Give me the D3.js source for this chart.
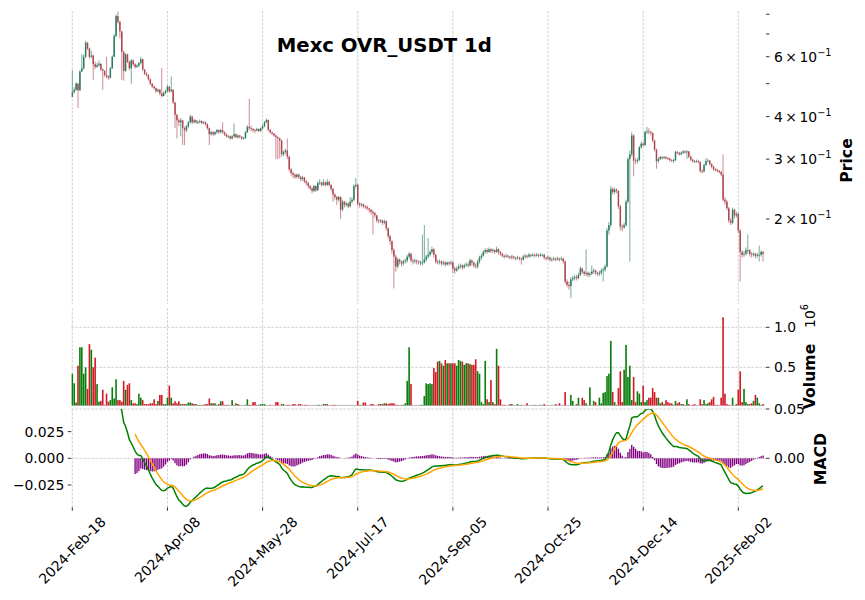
<!DOCTYPE html>
<html><head><meta charset="utf-8">
<script src="https://cdn.jsdelivr.net/npm/d3@7"></script>
<style>
body{margin:0;background:#fff}
svg{display:block}
text{font-family:"DejaVu Sans",sans-serif;fill:#000}
</style>
</head><body>
<svg id="chart" width="865" height="600"></svg>
<script>
// ---------------- DATA ----------------
const chartTitle = "Mexc OVR_USDT 1d";
const firstOpen = 0.458;
const closes = [
.472,.480,.500,.478,.543,.555,.600,.660,.635,.600,
.605,.570,.560,.566,.572,.550,.545,.530,.525,.520,
.555,.600,.690,.790,.760,.712,.620,.545,.610,.580,
.555,.585,.570,.560,.565,.575,.590,.550,.535,.530,
.515,.500,.490,.485,.475,.480,.468,.460,.470,.476,
.490,.475,.480,.440,.405,.390,.385,.390,.370,.365,
.375,.385,.400,.385,.390,.385,.386,.388,.383,.385,
.380,.370,.355,.360,.355,.360,.365,.360,.365,.360,
.355,.350,.350,.345,.350,.355,.348,.352,.349,.345,
.346,.360,.373,.370,.368,.365,.364,.368,.363,.370,
.375,.385,.391,.366,.360,.357,.352,.348,.345,.340,
.310,.315,.318,.305,.280,.273,.270,.266,.270,.266,
.262,.265,.258,.255,.250,.246,.242,.250,.243,.255,
.256,.252,.256,.252,.257,.252,.245,.236,.232,.228,
.232,.213,.225,.220,.222,.218,.225,.228,.250,.252,
.222,.220,.221,.218,.217,.215,.213,.210,.208,.205,
.198,.197,.198,.195,.197,.188,.178,.172,.162,.155,
.145,.152,.150,.148,.150,.151,.155,.158,.151,.150,
.151,.150,.149,.149,.149,.152,.155,.157,.160,.163,
.157,.150,.149,.150,.148,.149,.147,.149,.148,.149,
.143,.141,.143,.145,.146,.144,.146,.147,.146,.151,
.149,.146,.145,.150,.154,.156,.160,.162,.160,.163,
.161,.162,.160,.163,.160,.158,.156,.155,.156,.155,
.154,.155,.154,.153,.154,.153,.152,.155,.156,.155,
.157,.156,.157,.156,.157,.156,.157,.157,.154,.153,
.154,.152,.152,.153,.152,.153,.152,.153,.150,.131,
.128,.127,.133,.134,.135,.134,.137,.143,.140,.138,
.139,.137,.138,.140,.141,.139,.138,.139,.141,.142,
.145,.185,.192,.245,.240,.244,.242,.218,.190,.189,
.192,.225,.300,.310,.352,.297,.296,.298,.325,.333,
.330,.360,.362,.360,.358,.340,.320,.296,.300,.304,
.302,.304,.302,.301,.298,.297,.298,.315,.313,.310,
.313,.316,.314,.316,.305,.299,.296,.295,.296,.294,
.277,.276,.288,.296,.297,.290,.285,.280,.279,.277,
.275,.270,.228,.225,.215,.198,.195,.213,.205,.207,
.185,.160,.157,.158,.162,.162,.158,.157,.158,.156,
.157,.157,.160,.158];
const highs = [
.548,.488,.505,.502,.548,.610,.610,.668,.662,.638,
.625,.608,.580,.575,.585,.574,.556,.548,.600,.530,
.560,.606,.700,.800,.815,.765,.715,.625,.615,.612,
.585,.590,.590,.575,.570,.580,.600,.592,.552,.540,
.532,.518,.502,.494,.488,.484,.482,.555,.474,.480,
.495,.492,.525,.482,.442,.408,.395,.396,.392,.374,
.378,.388,.405,.402,.394,.392,.390,.392,.390,.388,
.387,.382,.372,.364,.362,.363,.368,.367,.368,.385,
.362,.357,.353,.352,.353,.382,.357,.354,.354,.350,
.349,.363,.378,.451,.376,.370,.368,.371,.369,.372,
.378,.388,.395,.392,.368,.362,.358,.354,.350,.347,
.342,.318,.322,.345,.307,.283,.276,.272,.272,.272,
.268,.268,.266,.260,.257,.252,.248,.252,.251,.258,
.262,.258,.262,.258,.262,.259,.253,.247,.238,.234,
.234,.233,.228,.226,.225,.224,.232,.231,.253,.264,
.254,.224,.223,.222,.220,.219,.216,.214,.212,.210,
.206,.200,.200,.199,.199,.198,.189,.180,.173,.164,
.157,.154,.153,.151,.152,.153,.157,.160,.159,.153,
.153,.152,.151,.151,.180,.192,.157,.176,.162,.166,
.164,.158,.152,.152,.151,.151,.150,.150,.150,.151,
.150,.145,.145,.147,.148,.147,.148,.149,.149,.153,
.152,.150,.148,.152,.156,.158,.162,.164,.164,.165,
.164,.164,.163,.166,.164,.161,.159,.157,.158,.157,
.156,.157,.156,.155,.156,.155,.154,.157,.158,.157,
.159,.158,.159,.158,.159,.158,.159,.158,.158,.155,
.156,.155,.154,.155,.154,.155,.154,.155,.154,.151,
.133,.131,.135,.136,.137,.137,.139,.145,.144,.141,
.163,.140,.140,.146,.143,.142,.140,.141,.143,.144,
.147,.188,.196,.250,.248,.247,.246,.243,.220,.193,
.195,.228,.304,.318,.360,.355,.302,.303,.328,.338,
.336,.364,.373,.370,.364,.360,.342,.322,.304,.307,
.306,.307,.306,.304,.303,.300,.301,.318,.317,.315,
.316,.319,.318,.319,.317,.307,.301,.298,.299,.298,
.296,.280,.291,.302,.301,.298,.292,.287,.283,.281,
.279,.277,.310,.232,.228,.217,.201,.216,.214,.210,
.209,.187,.162,.161,.165,.180,.163,.160,.160,.159,
.159,.167,.162,.161];
const lows = [
.455,.468,.476,.424,.476,.540,.550,.595,.628,.592,
.595,.512,.552,.556,.562,.545,.480,.524,.518,.512,
.518,.552,.598,.685,.750,.680,.512,.510,.540,.575,
.548,.500,.565,.554,.556,.560,.570,.545,.530,.525,
.510,.495,.486,.480,.470,.472,.462,.455,.458,.466,
.472,.470,.472,.436,.370,.345,.375,.350,.330,.330,
.360,.370,.382,.380,.382,.381,.380,.382,.380,.380,
.376,.366,.330,.352,.350,.352,.356,.356,.357,.356,
.351,.347,.346,.342,.343,.347,.345,.345,.345,.342,
.342,.344,.358,.365,.362,.360,.358,.362,.360,.361,
.366,.372,.383,.362,.356,.353,.349,.300,.300,.302,
.305,.306,.310,.300,.276,.268,.264,.262,.263,.262,
.258,.259,.255,.251,.246,.243,.238,.240,.240,.242,
.252,.249,.250,.249,.250,.249,.241,.225,.228,.220,
.225,.200,.211,.216,.217,.215,.216,.222,.226,.246,
.218,.216,.217,.215,.214,.212,.209,.206,.180,.201,
.195,.194,.195,.192,.193,.185,.175,.168,.158,.125,
.140,.143,.147,.145,.146,.148,.149,.153,.149,.147,
.148,.147,.147,.146,.146,.148,.150,.153,.155,.158,
.154,.148,.147,.147,.146,.146,.145,.146,.146,.146,
.139,.138,.140,.142,.143,.142,.143,.145,.144,.145,
.146,.144,.143,.143,.148,.152,.155,.158,.158,.159,
.159,.159,.158,.159,.157,.156,.154,.153,.154,.153,
.152,.152,.152,.151,.152,.151,.147,.151,.153,.153,
.154,.154,.155,.154,.155,.154,.155,.155,.152,.151,
.152,.150,.150,.151,.150,.151,.150,.151,.148,.129,
.126,.124,.117,.131,.132,.132,.133,.136,.138,.136,
.136,.135,.135,.137,.138,.137,.136,.136,.137,.131,
.140,.144,.180,.189,.236,.237,.238,.214,.185,.184,
.187,.190,.222,.150,.305,.267,.290,.292,.296,.322,
.326,.328,.355,.355,.352,.336,.316,.281,.292,.298,
.299,.300,.299,.298,.295,.294,.292,.296,.310,.307,
.308,.311,.311,.300,.302,.296,.293,.292,.293,.291,
.273,.273,.274,.286,.293,.287,.282,.277,.276,.274,
.272,.267,.225,.220,.212,.195,.192,.193,.201,.202,
.182,.131,.154,.155,.156,.158,.155,.154,.155,.153,
.154,.150,.155,.150];
// volume in millions of units (axis offset 10^6)
const volumesM = [
.42,.30,.06,.52,.75,.75,.42,.50,.23,.79,
.72,.50,.62,.29,.07,.08,.22,.03,.17,.07,
.09,.25,.11,.35,.09,.09,.07,.33,.22,.28,
.30,.09,.05,.05,.04,.17,.12,.09,.04,.04,
.04,.05,.05,.10,.04,.08,.155,.155,.04,.04,
.12,.27,.12,.05,.075,.05,.075,.04,.04,.04,
.04,.06,.06,.05,.04,.04,.03,.03,.03,.03,
.04,.04,.11,.05,.05,.05,.03,.04,.075,.075,
.03,.03,.03,.025,.09,.03,.05,.04,.03,.025,
.025,.03,.10,.03,.03,.065,.065,.03,.03,.04,
.04,.04,.025,.025,.03,.025,.025,.065,.065,.025,
.04,.04,.025,.03,.03,.025,.04,.04,.025,.04,
.04,.025,.03,.03,.025,.025,.025,.025,.025,.03,
.03,.025,.04,.04,.04,.025,.025,.03,.03,.025,
.025,.025,.025,.025,.025,.025,.025,.025,.025,.025,
.08,.03,.03,.06,.06,.025,.025,.04,.04,.025,
.025,.04,.04,.04,.05,.05,.04,.05,.05,.05,
.03,.03,.025,.03,.03,.05,.33,.75,.29,.025,
.025,.025,.025,.03,.03,.14,.30,.29,.30,.29,
.49,.44,.57,.58,.55,.52,.59,.55,.55,.55,
.55,.55,.52,.59,.58,.57,.53,.55,.55,.54,
.53,.53,.60,.45,.42,.065,.04,.58,.10,.065,
.34,.065,.04,.73,.52,.10,.03,.03,.025,.025,
.04,.04,.025,.025,.04,.025,.03,.025,.025,.05,
.025,.025,.025,.03,.025,.025,.03,.025,.04,.025,
.025,.025,.025,.025,.04,.025,.05,.025,.025,.19,
.025,.025,.155,.08,.025,.04,.12,.025,.12,.09,
.05,.025,.25,.025,.08,.065,.025,.12,.05,.18,
.19,.39,.42,.83,.19,.065,.03,.24,.45,.065,
.47,.78,.38,.52,.09,.38,.065,.20,.17,.065,
.27,.065,.09,.12,.12,.24,.19,.12,.12,.05,
.065,.04,.09,.065,.05,.05,.03,.08,.05,.065,
.04,.04,.03,.10,.04,.025,.03,.04,.025,.025,
.10,.04,.09,.04,.05,.065,.10,.13,.03,.03,
.025,.12,1.125,.17,.04,.03,.025,.12,.025,.04,
.22,.45,.065,.23,.065,.04,.04,.05,.08,.155,
.12,.05,.03,.04];
const xTickIndex = [0,50,100,150,200,250,300,350];
const xTickLabels = ["2024-Feb-18","2024-Apr-08","2024-May-28","2024-Jul-17","2024-Sep-05","2024-Oct-25","2024-Dec-14","2025-Feb-02"];
const priceTickValues = [0.2,0.3,0.4,0.6];
const priceTickMantissa = ["2","3","4","6"];
const priceMinorTicks = [0.5,0.7,0.8];
const volumeTicks = [0.5,1.0];
const volumeTickLabels = ["0.5","1.0"];
const macdLeftTicks = [0.025,0,-0.025];
const macdLeftLabels = ["0.025","0.000","\u22120.025"];
const macdRightTicks = [0.05,0];
const macdRightLabels = ["0.05","0.00"];

// ---------------- COLORS ----------------
const upC = "#2a7a5e", downC = "#b0454f";
const volUp = "#0b7d0b", volDown = "#d11a24";
const gridC = "#c4c4c4";

// ---------------- BUILD ----------------
const data = closes.map((c,i)=>{
  const o = i===0 ? firstOpen : closes[i-1];
  return {i, o, c, h: highs[i], l: lows[i], v: volumesM[i], up: c >= o};
});

// MACD(12,26,9) from the closes: ewm(span, adjust=False, min_periods=span)
function ewm(vals, span){
  const a = 2/(span+1); let e=null, cnt=0;
  return vals.map(v=>{
    if (v==null) return null;
    e = (e==null) ? v : (1-a)*e + a*v; cnt++;
    return cnt>=span ? e : null;
  });
}
const ema12 = ewm(closes,12), ema26 = ewm(closes,26);
const macd = closes.map((_,i)=> (ema12[i]!=null && ema26[i]!=null) ? ema12[i]-ema26[i] : null);
const signal = ewm(macd,9);
const hist = macd.map((m,i)=> (m!=null && signal[i]!=null) ? m - signal[i] : null);

const svg = d3.select("#chart");
const L = 71.3, R = 766;
const P = {top:11, bottom:304}, V = {top:308.3, bottom:405.7}, M = {top:409, bottom:507.3};

const x = d3.scaleLinear().domain([0,350]).range([72.3,738.3]);
const step = x(1)-x(0);
const yP = d3.scaleLog().domain([0.1125,0.8177]).range([P.bottom,P.top]);
const yV = d3.scaleLinear().domain([0.02,1.2375]).range([V.bottom,V.top]);
const yM = d3.scaleLinear().domain([-0.0459,0.0462]).range([M.bottom,M.top]);   // left axis: MACD & signal lines
const yR = d3.scaleLinear().domain([-0.05,0.05]).range([507.6,409]);           // right axis: histogram

const defs = svg.append("defs");
[["cP",P],["cV",V],["cM",M]].forEach(([id,p])=>{
  defs.append("clipPath").attr("id",id).append("rect")
    .attr("x",L).attr("y",p.top).attr("width",R-L).attr("height",p.bottom-p.top);
});

// grid
const grid = svg.append("g").attr("stroke",gridC).attr("stroke-width",0.8).attr("stroke-dasharray","2.6,1.4").attr("fill","none");
[P,V,M].forEach(p=>{
  xTickIndex.forEach(t=>{
    grid.append("line").attr("x1",x(t)).attr("x2",x(t)).attr("y1",p.top).attr("y2",p.bottom);
  });
});
volumeTicks.forEach(t=>grid.append("line").attr("x1",L).attr("x2",R).attr("y1",yV(t)).attr("y2",yV(t)));
macdRightTicks.forEach(t=>grid.append("line").attr("x1",L).attr("x2",R).attr("y1",yR(t)).attr("y2",yR(t)));

// candles
const gP = svg.append("g").attr("clip-path","url(#cP)");
gP.selectAll("line.wick").data(data).join("line").attr("class","wick")
  .attr("x1",d=>x(d.i)).attr("x2",d=>x(d.i))
  .attr("y1",d=>yP(d.h)).attr("y2",d=>yP(d.l))
  .attr("stroke",d=>d.up?upC:downC).attr("stroke-width",0.9).attr("stroke-opacity",0.7);
const bw = step*0.78;
gP.selectAll("rect.body").data(data).join("rect").attr("class","body")
  .attr("x",d=>x(d.i)-bw/2).attr("width",bw)
  .attr("y",d=>yP(Math.max(d.o,d.c)))
  .attr("height",d=>Math.max(0.8, yP(Math.min(d.o,d.c))-yP(Math.max(d.o,d.c))))
  .attr("fill",d=>d.up?upC:downC);

// volume
const gV = svg.append("g").attr("clip-path","url(#cV)");
gV.append("line").attr("x1",L).attr("x2",R).attr("y1",V.bottom-0.3).attr("y2",V.bottom-0.3)
  .attr("stroke","#dcdcf4").attr("stroke-width",1.2);
const vw = step*0.85;
gV.selectAll("rect").data(data).join("rect")
  .attr("x",d=>x(d.i)-vw/2).attr("width",vw)
  .attr("y",d=>yV(d.v)).attr("height",d=>Math.max(0,yV.range()[0]-yV(d.v)))
  .attr("fill",d=>d.up?volUp:volDown);

// MACD
const gM = svg.append("g").attr("clip-path","url(#cM)");
const hw = step*0.7;
const hd = hist.map((h,i)=>({i,h})).filter(d=>d.h!=null);
gM.selectAll("rect").data(hd).join("rect")
  .attr("x",d=>x(d.i)-hw/2).attr("width",hw)
  .attr("y",d=>Math.min(yR(0),yR(d.h))).attr("height",d=>Math.abs(yR(d.h)-yR(0)))
  .attr("fill","#800080");
const lineGen = d3.line().defined(d=>d.v!=null).x(d=>x(d.i)).y(d=>yM(d.v));
gM.append("path").datum(macd.map((v,i)=>({i,v}))).attr("d",lineGen)
  .attr("fill","none").attr("stroke","#008000").attr("stroke-width",1.5);
gM.append("path").datum(signal.map((v,i)=>({i,v}))).attr("d",lineGen)
  .attr("fill","none").attr("stroke","#ffa500").attr("stroke-width",1.5);

// axes: right side price ticks
const ax = svg.append("g");
const tickLen = 3.5, fs = 13.9;
priceTickValues.concat(priceMinorTicks).forEach(v=>{
  ax.append("line").attr("x1",R).attr("x2",R+tickLen).attr("y1",yP(v)).attr("y2",yP(v)).attr("stroke","#000").attr("stroke-width",0.8);
});
priceTickValues.forEach((v,k)=>{
  const t = ax.append("text").attr("x",R+8).attr("y",yP(v)).attr("dy","0.36em").attr("font-size",fs);
  t.append("tspan").text(priceTickMantissa[k]);
  t.append("tspan").attr("dx",2.5).text("\u00d7");
  t.append("tspan").attr("dx",2.5).text("10");
  t.append("tspan").attr("dy",-6).attr("font-size",fs*0.7).text("\u22121");
});
// volume ticks
volumeTicks.forEach((v,k)=>{
  ax.append("line").attr("x1",R).attr("x2",R+tickLen).attr("y1",yV(v)).attr("y2",yV(v)).attr("stroke","#000").attr("stroke-width",0.8);
  ax.append("text").attr("x",R+8).attr("y",yV(v)).attr("dy","0.36em").attr("font-size",fs).text(volumeTickLabels[k]);
});
// MACD right ticks
macdRightTicks.forEach((v,k)=>{
  ax.append("line").attr("x1",R).attr("x2",R+tickLen).attr("y1",yR(v)).attr("y2",yR(v)).attr("stroke","#000").attr("stroke-width",0.8);
  ax.append("text").attr("x",R+8).attr("y",yR(v)).attr("dy","0.36em").attr("font-size",fs).text(macdRightLabels[k]);
});
// MACD left ticks
macdLeftTicks.forEach((v,k)=>{
  ax.append("line").attr("x1",L-tickLen).attr("x2",L).attr("y1",yM(v)).attr("y2",yM(v)).attr("stroke","#000").attr("stroke-width",0.8);
  ax.append("text").attr("x",L-7).attr("y",yM(v)).attr("dy","0.36em").attr("text-anchor","end").attr("font-size",fs).text(macdLeftLabels[k]);
});
// x ticks + rotated labels
xTickIndex.forEach((t,k)=>{
  ax.append("line").attr("x1",x(t)).attr("x2",x(t)).attr("y1",M.bottom).attr("y2",M.bottom+tickLen).attr("stroke","#000").attr("stroke-width",0.8);
  const tx = ax.append("text").attr("font-size",fs).attr("text-anchor","middle").attr("dominant-baseline","central").text(xTickLabels[k]);
  const len = tx.node().getComputedTextLength();
  const half = (len+fs)*Math.SQRT1_2/2;
  tx.attr("transform",`translate(${x(t)},${M.bottom + 7 + half}) rotate(-45)`);
});

// axis labels
const lab = (txt,xp,yp)=>ax.append("text").attr("transform",`translate(${xp},${yp}) rotate(-90)`)
  .attr("text-anchor","middle").attr("dominant-baseline","central").attr("font-weight","bold").attr("font-size",15.7).text(txt);
lab("Price",846,160.5);
lab("Volume",809.5,376.5);
lab("MACD",820,459);
const off = ax.append("text").attr("transform","translate(809.5,316) rotate(-90)").attr("text-anchor","middle").attr("dominant-baseline","central").attr("font-size",fs);
off.append("tspan").text("10");
off.append("tspan").attr("dy",-6).attr("font-size",fs*0.7).text("6");

// title
svg.append("text").attr("x",384.3).attr("y",51.7).attr("text-anchor","middle")
  .attr("font-weight","bold").attr("font-size",19.7).text(chartTitle);
</script>
</body></html>
